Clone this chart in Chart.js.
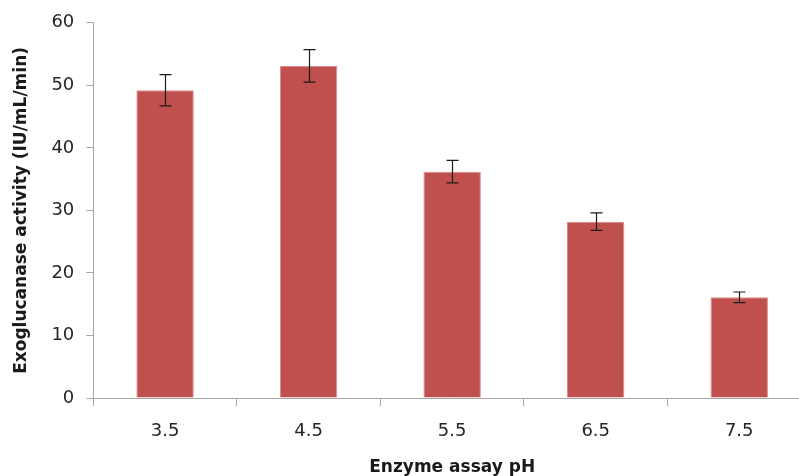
<!DOCTYPE html>
<html>
<head>
<meta charset="utf-8">
<script src="https://cdn.jsdelivr.net/npm/chart.js@4.4.1/dist/chart.umd.min.js"></script>
<style>
  html, body { margin: 0; padding: 0; background: #fff; overflow: hidden; }
  #wrap { position: relative; width: 811px; height: 476px; }
</style>
</head>
<body>
<div id="wrap"><canvas id="c"></canvas></div>
<script>
const categories = ["3.5", "4.5", "5.5", "6.5", "7.5"];
const activity = [49.2, 53.1, 36.2, 28.2, 16.1];
const errors = [2.5, 2.6, 1.8, 1.4, 0.85];
const yTicks = [0, 10, 20, 30, 40, 50, 60];

const errorBarPlugin = {
  id: 'errorBars',
  afterDatasetsDraw(chart) {
    const ctx = chart.ctx;
    const meta = chart.getDatasetMeta(0);
    const y = chart.scales.y;
    ctx.save();
    ctx.strokeStyle = '#1a1a1a';
    ctx.lineWidth = 1.2;
    meta.data.forEach((bar, i) => {
      const v = activity[i], e = errors[i];
      const x = Math.round(bar.x) + 0.5;
      const yt = y.getPixelForValue(v + e);
      const yb = y.getPixelForValue(v - e);
      ctx.beginPath();
      ctx.moveTo(x, yt); ctx.lineTo(x, yb);
      ctx.moveTo(x - 6, yt); ctx.lineTo(x + 6, yt);
      ctx.moveTo(x - 6, yb); ctx.lineTo(x + 6, yb);
      ctx.stroke();
    });
    ctx.restore();
  }
};

new Chart(document.getElementById('c'), {
  type: 'bar',
  data: {
    labels: categories,
    datasets: [{
      data: activity,
      backgroundColor: '#C0504D',
      borderColor: '#D98C8A',
      borderWidth: 1,
      categoryPercentage: 1.0,
      barPercentage: 0.4
    }]
  },
  options: {
    responsive: true,
    maintainAspectRatio: false,
    animation: false,
    layout: { padding: { top: 8, right: 0, bottom: 0, left: 11 } },
    plugins: { legend: { display: false }, tooltip: { enabled: false } },
    scales: {
      x: {
        afterFit(scale) { scale.height = 78; },
        grid: { display: true, drawOnChartArea: false, offset: true, color: '#A6A6A6', tickLength: 8 },
        border: { display: true, color: '#A6A6A6', width: 1 },
        ticks: { color: '#262626', font: { family: 'DejaVu Sans', size: 18 }, padding: 15 },
        title: { display: true, text: 'Enzyme assay pH', color: '#1a1a1a', font: { family: 'DejaVu Sans', size: 17, weight: 'bold' }, padding: { top: 4, bottom: -2 } }
      },
      y: {
        min: 0, max: 60,
        afterBuildTicks(axis) { axis.ticks = yTicks.map(v => ({ value: v })); },
        grid: { display: true, drawOnChartArea: false, color: '#A6A6A6', tickLength: 7 },
        border: { display: true, color: '#A6A6A6', width: 1 },
        ticks: { color: '#262626', font: { family: 'DejaVu Sans', size: 18 }, padding: 12 },
        title: { display: true, text: 'Exoglucanase activity (IU/mL/min)', color: '#1a1a1a', font: { family: 'DejaVu Sans', size: 17, weight: 'bold' }, padding: { top: 0, bottom: 8 } }
      }
    }
  },
  plugins: [errorBarPlugin]
});
</script>
</body>
</html>
